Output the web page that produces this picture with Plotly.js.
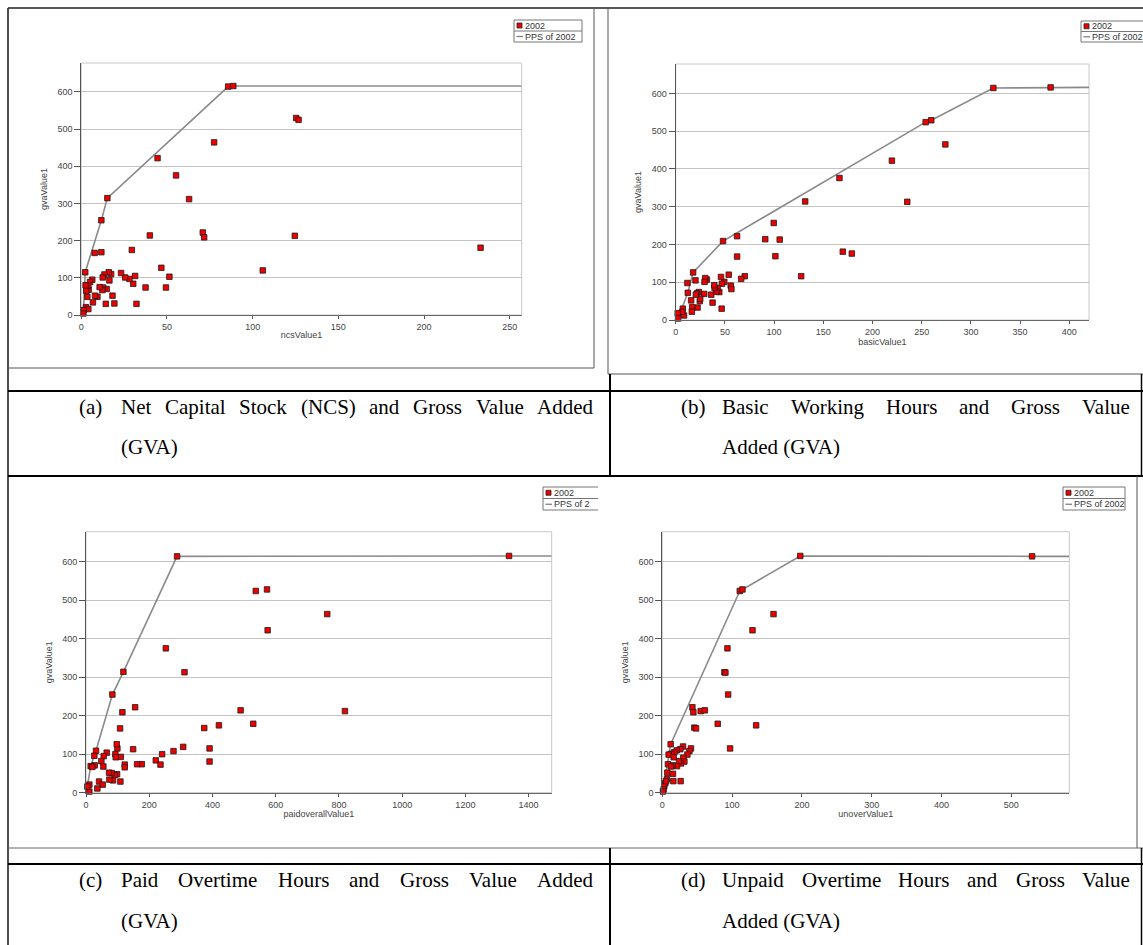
<!DOCTYPE html>
<html><head><meta charset="utf-8">
<script src="https://cdn.plot.ly/plotly-3.0.1.min.js"></script>
<style>html,body{margin:0;padding:0;background:#fff}#chart{width:1143px;height:945px}</style>
</head><body><div id="chart"></div>
<script>
// ---------- data ----------
const ncsX = [85.7,88.7,125.4,126.8,77.5,44.5,55.3,62.9,15.2,11.7, 2.3,7.8,11.7,29.5,40,70.9,71.7,124.6,105.9,46.7, 51.4,49.4,37.5,31.4,30.3,28.1,25.6,23.2,32.2,19.3, 14.3,18.2,17.4,16,13.5,12.5,16.4,14.8,12.7,12.3, 10.7,9.4,8,6.8,6.4,5.1,4.3,4.1,3.5,2.9, 2.5,2.7,4.1,1.4,1.2,233];
const ncsY = [614.6,616,530,525,464.5,422,375.6,311.8,314.5,255, 115,167,169,175,214,222,209,213,120,127, 103,74,74,105,84,97,101,113,30,31, 30,52,110,115,109,101,93,70,74,67, 75,49,52,34,95,89,68,80,49,65, 80,21,16,13,4,181];
const ncsPpsX = [1.2,2.3,11.7,15.2,85.7,88.7,257];
const ncsPpsY = [4,115,255,314.5,614.6,616,616];

const basicX = [48.1,62.4,62.4,91,99.6,101.3,105.7,131.6,166.4,169.8, 179,127.5,70.2,66.5,53.9,55.9,56.6,49.4,46,47, 44.3,42.6,41.3,39.5,39.2,37.5,36.1,46.7,31.7,30, 29.3,29,24.5,24.9,23.5,21.8,20.5,22.2,20.1,17.7, 15.7,16.7,16.4,12.3,11.9,8.5,7.2,6.8,2,2.4, 254,259.7,274,219.7,235.3,322.8,381];
const basicY = [209,222,168,214,257,169,213,314,376,181, 176,116,116,109,120,91,82,101,114,96, 74,85,75,85,92,46,67,30,107,111, 101,69,50,56,74,71,67,33,105,126, 52,34,22,72,98,12,30,22,18,4, 524,529,465,422,313,614.5,616];
const basicPpsX = [2.4,12.3,17.7,48.1,254,259.7,322.8,381,420];
const basicPpsY = [4,72,126,209,524,529,614.5,616,616];

const paidX = [288,537,572.5,574.6,252.5,311.6,118.3,83.4,155.3,115.1, 489,529,420.4,374,107.7,307.4,276.8,240.8,390.8,390.8, 220.8,235.6,176.4,161.6,149,122.5,122.5,109.9,99.3,97.2, 93,94,108.8,98.2,90.8,81.3,72.9,85.6,74,65.5, 56,48.6,54.9,31.7,26.4,27.5,14.8,20.1,41.2,52.8, 35.9,10.6,10.6,4.2, 1338,763,819];
const paidY = [614,524,528,422,375,313,314,255,222,209, 214,179,175,168,167,119,108,100,115,81, 84,73,74,74,113,73,66,93,115,126, 100,92,29,48,46,51,52,32,34,104, 95,82,68,109,96,71,69,67,29,21, 11,21,3,16, 615,464,212];
const paidPpsX = [4.2,14.8,31.7,83.4,118.3,288,1338,1473];
const paidPpsY = [16,69,109,255,314,614,615,615];

const unoverX = [197.6,111,114.8,159.3,129.2,93.3,89,90.4,94.3,43.1, 44.5,55,60.8,45.9,48.3,79.4,134.4,97.1,12,41.1, 38.8,35.9,29.7,25.8,20.6,17.2,12.9,9.1,30.1,16.3, 31.6,26.8,23.9,21.1,14.8,8.1,12.4,7.2,15.3,15.8, 26.3,6.7,4.3,2.9,1.9,1,5.3, 529.7];
const unoverY = [615,524,528,464,422,375,313,312,255,222, 209,212,214,169,167,179,175,115,126,115, 108,99,120,113,110,105,101,99,91,92, 81,76,82,69,71,74,68,52,49,30, 30,35,25,18,9,3,30, 614];
const unoverPpsX = [1,12,111,114.8,197.6,529.7,583];
const unoverPpsY = [3,126,524,528,615,614,614];

const seriesName = '2002';
const ppsName = 'PPS of 2002';
const yTitle = 'gvaValue1';
const xTitles = ['ncsValue1','basicValue1','paidoverallValue1','unoverValue1'];
const captions = [
  {label:'(a)', line1:'Net Capital Stock (NCS) and Gross Value Added', line2:'(GVA)'},
  {label:'(b)', line1:'Basic Working Hours and Gross Value', line2:'Added (GVA)'},
  {label:'(c)', line1:'Paid Overtime Hours and Gross Value Added', line2:'(GVA)'},
  {label:'(d)', line1:'Unpaid Overtime Hours and Gross Value', line2:'Added (GVA)'}
];

// ---------- layout helpers ----------
const W = 1143, H = 945;
const px = v => v / W;
const py = v => 1 - v / H;
const SANS = 'Liberation Sans, Arial, sans-serif';
const SERIF = 'Liberation Serif, Times New Roman, serif';
const RED = '#ee0000';

function pts(x, y, xa, ya){
  return {type:'scatter', mode:'markers', x, y, xaxis:xa, yaxis:ya, name:seriesName, cliponaxis:false,
    marker:{symbol:'square', size:5.5, color:RED, line:{color:'#1a1a1a', width:0.8}}, showlegend:false, hoverinfo:'x+y'};
}
function pps(x, y, xa, ya){
  return {type:'scatter', mode:'lines', x, y, xaxis:xa, yaxis:ya, name:ppsName, cliponaxis:false,
    line:{color:'#8a8a8a', width:1.6}, showlegend:false, hoverinfo:'skip'};
}
const data = [
  pps(ncsPpsX, ncsPpsY, 'x', 'y'), pts(ncsX, ncsY, 'x', 'y'),
  pps(basicPpsX, basicPpsY, 'x2', 'y2'), pts(basicX, basicY, 'x2', 'y2'),
  pps(paidPpsX, paidPpsY, 'x3', 'y3'), pts(paidX, paidY, 'x3', 'y3'),
  pps(unoverPpsX, unoverPpsY, 'x4', 'y4'), pts(unoverX, unoverY, 'x4', 'y4')
];

const tickfont = {family:SANS, size:9, color:'#444'};
function xax(l, r, range, dtick, title, anchor){
  return {domain:[px(l), px(r)], range, dtick, tick0:0, anchor, showgrid:false, zeroline:false,
    showline:true, linecolor:'#666', linewidth:1, ticks:'outside', ticklen:3, tickcolor:'#555',
    tickfont, title:{text:title, font:{family:SANS, size:9, color:'#444'}, standoff:0}, fixedrange:true};
}
function yax(top, bottom, anchor){
  return {domain:[py(bottom), py(top)], range:[0,678], dtick:100, tick0:0, anchor, showgrid:true,
    gridcolor:'#c4c4c4', gridwidth:1, zeroline:false, showline:true, linecolor:'#555', linewidth:1,
    ticks:'outside', ticklen:6, tickcolor:'#555', tickfont,
    title:{text:yTitle, font:{family:SANS, size:9, color:'#444'}, standoff:8}, fixedrange:true};
}

const shapes = [];
const annotations = [];
function hline(y, x0, x1, color, w){ shapes.push({type:'line', xref:'paper', yref:'paper', x0:px(x0), x1:px(x1), y0:py(y), y1:py(y), line:{color, width:w}}); }
function vline(x, y0, y1, color, w){ shapes.push({type:'line', xref:'paper', yref:'paper', x0:px(x), x1:px(x), y0:py(y0), y1:py(y1), line:{color, width:w}}); }

// plot frames (light)
['', '2', '3', '4'].forEach(s => {
  shapes.push({type:'rect', xref:'x'+s+' domain', yref:'y'+s+' domain', x0:0, x1:1, y0:0, y1:1,
    line:{color:'#c8c8c8', width:1}, layer:'below'});
});

// table / image frames
hline(8, 8, 1143, '#222', 1.6);
vline(8, 8, 945, '#222', 1.6);
vline(594, 8, 368, '#555', 1); hline(368, 8, 594, '#555', 1);
vline(608, 8, 374, '#555', 1); hline(374, 608, 1143, '#555', 1);
hline(391, 8, 1143, '#000', 2);
hline(476, 8, 1143, '#000', 2);
vline(610, 374, 476, '#000', 2);
vline(1141.5, 374, 476, '#000', 1.5);
vline(1137, 476, 848, '#555', 1);
hline(848, 8, 1143, '#666', 1);
hline(864, 8, 1143, '#000', 2);
vline(610, 848, 945, '#000', 2);
vline(1141.5, 848, 945, '#000', 1.5);

// manual legends
function legend(x0, y0, x1, y1, label2, rightBorder){
  const ym = (y0 + y1) / 2;
  const c = '#777';
  hline(y0, x0, x1, c, 1); hline(y1, x0, x1, c, 1); hline(ym, x0, x1, c, 1);
  vline(x0, y0, y1, c, 1);
  if (rightBorder) vline(x1, y0, y1, c, 1);
  const r1 = (y0 + ym) / 2, r2 = (ym + y1) / 2;
  shapes.push({type:'rect', xref:'paper', yref:'paper', x0:px(x0+3), x1:px(x0+8), y0:py(r1+2.5), y1:py(r1-2.5),
    fillcolor:RED, line:{color:'#222', width:0.8}});
  shapes.push({type:'line', xref:'paper', yref:'paper', x0:px(x0+2.5), x1:px(x0+9), y0:py(r2), y1:py(r2), line:{color:'#777', width:1.2}});
  annotations.push({text:seriesName, xref:'paper', yref:'paper', x:px(x0+9.5), y:py(r1), xanchor:'left', yanchor:'middle', showarrow:false, font:{family:SANS, size:9, color:'#333'}, borderpad:0});
  annotations.push({text:label2, xref:'paper', yref:'paper', x:px(x0+9.5), y:py(r2), xanchor:'left', yanchor:'middle', showarrow:false, font:{family:SANS, size:9, color:'#333'}, borderpad:0});
}
legend(514, 20, 582, 42, ppsName, true);
legend(1081, 21, 1150, 42, ppsName, false);
legend(543, 487, 598, 510, 'PPS of 2', false);
legend(1063, 487, 1125, 510, ppsName, true);

// captions
const ctx = document.createElement('canvas').getContext('2d');
const CAP_SIZE = 21;
ctx.font = CAP_SIZE + 'px "Liberation Serif"';
function capText(text, x, y){
  annotations.push({text, xref:'paper', yref:'paper', x:px(x), y:py(y), xanchor:'left', yanchor:'middle', showarrow:false, borderpad:0,
    font:{family:SERIF, size:CAP_SIZE, color:'#000'}});
}
function justified(line, x0, x1, y){
  const words = line.split(' ');
  const ws = words.map(w => ctx.measureText(w).width);
  const total = ws.reduce((a, b) => a + b, 0);
  const gap = (x1 - x0 - total) / (words.length - 1);
  let x = x0;
  words.forEach((w, i) => { capText(w, x, y); x += ws[i] + gap; });
}
const capPos = [
  {lx:78, x0:120, x1:592, y1:407, y2:447},
  {lx:680, x0:721, x1:1129, y1:407, y2:447},
  {lx:78, x0:120, x1:592, y1:880, y2:921},
  {lx:680, x0:721, x1:1129, y1:880, y2:921}
];
captions.forEach((c, i) => {
  const p = capPos[i];
  capText(c.label, p.lx, p.y1);
  justified(c.line1, p.x0, p.x1, p.y1);
  capText(c.line2, p.x0, p.y2);
});

const layout = {
  width:W, height:H, margin:{l:0, r:0, t:0, b:0}, paper_bgcolor:'#fff', plot_bgcolor:'#fff',
  showlegend:false,
  xaxis: xax(81.3, 521.7, [0,257], 50, xTitles[0], 'y'),
  yaxis: yax(63, 315, 'x'),
  xaxis2: xax(675.7, 1089, [0,420], 50, xTitles[1], 'y2'),
  yaxis2: yax(64, 320, 'x2'),
  xaxis3: xax(86, 551.7, [0,1473], 200, xTitles[2], 'y3'),
  yaxis3: yax(531.7, 792.7, 'x3'),
  xaxis4: xax(662.3, 1069.3, [0,583], 100, xTitles[3], 'y4'),
  yaxis4: yax(531.7, 792.7, 'x4'),
  shapes, annotations
};
Plotly.newPlot('chart', data, layout, {staticPlot:true, displayModeBar:false});
</script>
</body></html>
